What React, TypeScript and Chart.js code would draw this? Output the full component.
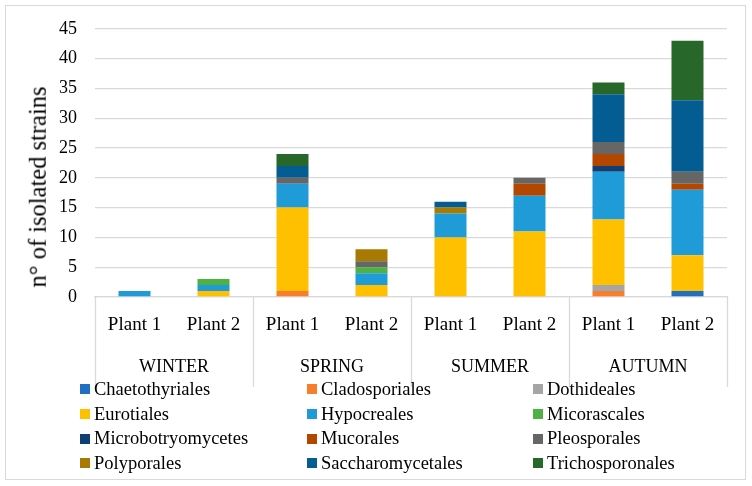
import React, { useEffect, useRef } from 'react';
import { Chart, registerables } from 'chart.js';

Chart.register(...registerables);

const plants = ['Plant 1', 'Plant 2', 'Plant 1', 'Plant 2', 'Plant 1', 'Plant 2', 'Plant 1', 'Plant 2'];
const seasons = ['WINTER', 'SPRING', 'SUMMER', 'AUTUMN'];
const yTicks = [0, 5, 10, 15, 20, 25, 30, 35, 40, 45];
const yTitle = 'n° of isolated strains';

const orders = [
  'Chaetothyriales', 'Cladosporiales', 'Dothideales',
  'Eurotiales', 'Hypocreales', 'Micorascales',
  'Microbotryomycetes', 'Mucorales', 'Pleosporales',
  'Polyporales', 'Saccharomycetales', 'Trichosporonales',
];
const colors = [
  '#1F70C1', '#F97E2B', '#A5A5A5',
  '#FFC000', '#1F9BD8', '#4EB143',
  '#103F73', '#B44700', '#666666',
  '#A97A02', '#035C92', '#28672A',
];

// order: Winter P1, Winter P2, Spring P1, Spring P2, Summer P1, Summer P2, Autumn P1, Autumn P2
const chaetothyriales = [0, 0, 0, 0, 0, 0, 0, 1];
const cladosporiales = [0, 0, 1, 0, 0, 0, 1, 0];
const dothideales = [0, 0, 0, 0, 0, 0, 1, 0];
const eurotiales = [0, 1, 14, 2, 10, 11, 11, 6];
const hypocreales = [1, 1, 4, 2, 4, 6, 8, 11];
const micorascales = [0, 1, 0, 1, 0, 0, 0, 0];
const microbotryomycetes = [0, 0, 0, 0, 0, 0, 1, 0];
const mucorales = [0, 0, 0, 0, 0, 2, 2, 1];
const pleosporales = [0, 0, 1, 1, 0, 1, 2, 2];
const polyporales = [0, 0, 0, 2, 1, 0, 0, 0];
const saccharomycetales = [0, 0, 2, 0, 1, 0, 8, 12];
const trichosporonales = [0, 0, 2, 0, 0, 0, 2, 10];

const seriesValues = [
  chaetothyriales, cladosporiales, dothideales,
  eurotiales, hypocreales, micorascales,
  microbotryomycetes, mucorales, pleosporales,
  polyporales, saccharomycetales, trichosporonales,
];

const FONT = '"Liberation Serif", "DejaVu Serif", serif';
const GRID = '#D9D9D9';
const PAD_LEFT = 24;

const separatorPlugin = {
  id: 'separators',
  afterDraw(chart: any) {
    const xs = chart.scales.x;
    const x2 = chart.scales.x2;
    const ctx = chart.ctx;
    ctx.save();
    ctx.strokeStyle = GRID;
    ctx.lineWidth = 1.3;
    const n = seasons.length;
    for (let i = 0; i <= n; i++) {
      const px = Math.round(xs.left + (i * xs.width) / n) + 0.5;
      ctx.beginPath();
      ctx.moveTo(px, chart.chartArea.bottom);
      ctx.lineTo(px, x2.bottom);
      ctx.stroke();
    }
    ctx.restore();
  },
};

export default function App() {
  const ref = useRef<HTMLCanvasElement>(null);

  useEffect(() => {
    if (!ref.current) return;
    const chart = new Chart(ref.current, {
      type: 'bar',
      data: {
        labels: plants,
        datasets: orders.map((name, i) => ({
          label: name,
          data: seriesValues[i],
          backgroundColor: colors[i],
          borderWidth: 0,
          xAxisID: 'x',
          yAxisID: 'y',
        })),
      },
      options: {
        animation: false,
        responsive: false,
        maintainAspectRatio: false,
        devicePixelRatio: 1,
        layout: { padding: { left: PAD_LEFT, right: 25, top: 27, bottom: 3 } },
        datasets: { bar: { categoryPercentage: 1, barPercentage: 0.405 } },
        plugins: {
          legend: { display: false },
          tooltip: { enabled: false },
        },
        scales: {
          x: {
            type: 'category',
            stacked: true,
            position: 'bottom',
            offset: true,
            grid: { display: false },
            border: { display: true, color: GRID, width: 1.3 },
            ticks: {
              color: '#000',
              font: { family: FONT, size: 19 },
              padding: 9,
              maxRotation: 0,
              autoSkip: false,
            },
            afterFit(scale: any) { scale.height = 50; },
          },
          x2: {
            type: 'category',
            labels: seasons,
            position: 'bottom',
            offset: true,
            grid: { display: false },
            border: { display: false },
            ticks: {
              color: '#000',
              font: { family: FONT, size: 18 },
              padding: 1,
              maxRotation: 0,
              autoSkip: false,
            },
            afterFit(scale: any) { scale.height = 40; },
          },
          y: {
            stacked: true,
            min: 0,
            max: 45,
            afterBuildTicks(scale: any) {
              scale.ticks = yTicks.map((v) => ({ value: v }));
            },
            grid: { color: GRID, lineWidth: 1.3, drawTicks: false },
            border: { display: false },
            ticks: {
              color: '#000',
              font: { family: FONT, size: 18 },
              padding: 18,
            },
            title: { display: false },
            afterFit(scale: any) { scale.width = 95 - PAD_LEFT; },
          },
        },
      },
      plugins: [separatorPlugin],
    });
    return () => chart.destroy();
  }, []);

  return (
    <div style={{ position: 'fixed', left: 0, top: 0, width: 752, height: 486, background: '#fff' }}>
      <div
        style={{
          position: 'absolute', left: 5, top: 5, width: 741, height: 475,
          border: '1px solid #D9D9D9', boxSizing: 'border-box',
        }}
      />
      <canvas ref={ref} width={752} height={390} style={{ position: 'absolute', left: 0, top: 0, width: 752, height: 390 }} />
      <div
        style={{
          position: 'absolute', left: 38, top: 187, transform: 'translate(-50%, -50%) rotate(-90deg)',
          whiteSpace: 'nowrap', fontFamily: FONT, fontSize: 24.5, color: '#000', lineHeight: 1,
        }}
      >
        {yTitle}
      </div>
      <div
        style={{
          position: 'absolute', left: 80, top: 377, width: 680,
          display: 'grid', gridTemplateColumns: '227px 226px 226px', rowGap: 0,
          fontFamily: FONT, fontSize: 18.5, color: '#000',
        }}
      >
        {orders.map((name, i) => (
          <div key={name} style={{ display: 'flex', alignItems: 'center', height: 24.7, whiteSpace: 'nowrap' }}>
            <span style={{ display: 'inline-block', width: 10, height: 10, background: colors[i], marginRight: 4 }} />
            <span>{name}</span>
          </div>
        ))}
      </div>
    </div>
  );
}
